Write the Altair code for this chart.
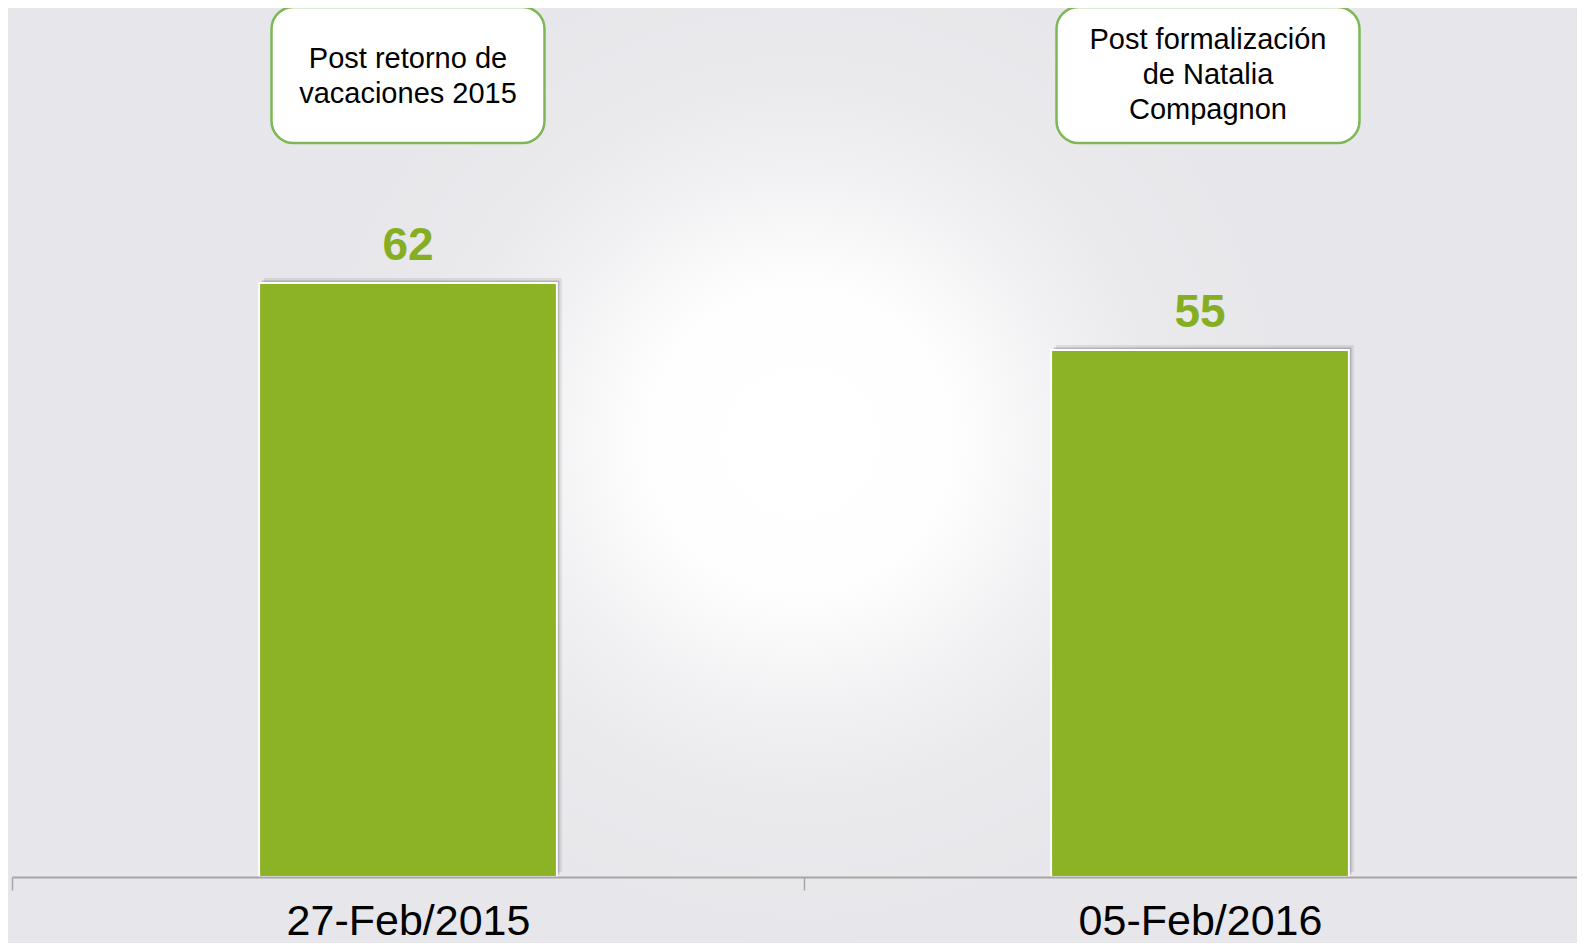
import altair as alt
import pandas as pd

# ---- data ----
categories = ["27-Feb/2015", "05-Feb/2016"]
values = [62, 55]
notes = ["Post retorno de\nvacaciones 2015", "Post formalización\nde Natalia\nCompagnon"]

df = pd.DataFrame({"fecha": categories, "valor": values, "nota": notes})
one = pd.DataFrame({"k": [0]})

W, H = 1569, 869
GREEN = "#8cb326"
LABEL_GREEN = "#86ae22"
BOX_GREEN = "#7cb856"

xscale = alt.Scale(domain=categories, range=[4, 1588], paddingInner=0, paddingOuter=0)
yscale = alt.Scale(domain=[0, 90.7])

x_axis = alt.X(
    "fecha:N", scale=xscale, sort=categories,
    axis=alt.Axis(
        title=None, tickBand="extent", grid=False, zindex=1,
        domainColor="#a6a6a6", domainWidth=2,
        tickColor="#a6a6a6", tickWidth=1.5, tickSize=13,
        labelFont="Liberation Sans", labelFontSize=43, labelColor="#000000",
        labelBaseline="alphabetic", labelPadding=44, labelAngle=0, labelLimit=0,
    ),
)
y_val = alt.Y("valor:Q", scale=yscale, axis=None)

grad = alt.RadialGradient(
    gradient="radial",
    stops=[
        alt.GradientStop(color="#ffffff", offset=0),
        alt.GradientStop(color="#fefefe", offset=0.15),
        alt.GradientStop(color="#f9f9fa", offset=0.2),
        alt.GradientStop(color="#f1f1f3", offset=0.27),
        alt.GradientStop(color="#eaeaed", offset=0.36),
        alt.GradientStop(color="#e7e7eb", offset=0.5),
    ],
    x1=0.5, y1=0.5, r1=0, x2=0.5, y2=0.5, r2=0.5,
)

bg = alt.Chart(one).mark_rect(color=grad).encode(
    x=alt.value(-208), x2=alt.value(1792), y=alt.value(-568), y2=alt.value(1432)
)

shadow1 = alt.Chart(df).mark_bar(
    color="#000000", opacity=0.08, width=alt.RelativeBandSize(0.376), xOffset=5, yOffset=-5
).encode(x=x_axis, y=y_val)
shadow2 = alt.Chart(df).mark_bar(
    color="#000000", opacity=0.18, width=alt.RelativeBandSize(0.376), xOffset=2.5, yOffset=-2.5
).encode(x=x_axis, y=y_val)

bars = alt.Chart(df).mark_bar(
    color=GREEN, stroke="white", strokeWidth=2, width=alt.RelativeBandSize(0.376)
).encode(x=x_axis, y=y_val)

vlabels = alt.Chart(df).mark_text(
    font="Liberation Sans", fontSize=46, fontWeight="bold", color=LABEL_GREEN,
    baseline="alphabetic", dy=-23,
).encode(x=x_axis, y=y_val, text="valor:Q")

layers = [bg, shadow1, shadow2, bars, vlabels]

# box width, horizontal shift, first-line y
box_styles = [(273, 0, 51), (303, 8, 32)]
for i, (bw, off, ty) in enumerate(box_styles):
    sub = df.iloc[[i]]
    box = alt.Chart(sub).mark_bar(
        width=bw, xOffset=off, cornerRadius=22, fill="white",
        stroke=BOX_GREEN, strokeWidth=2.5,
    ).encode(x=x_axis, y=alt.value(-1), y2=alt.value(135))
    txt = alt.Chart(sub).mark_text(
        font="Liberation Sans", fontSize=29, lineHeight=35, lineBreak="\n",
        baseline="middle", align="center", color="#000000", xOffset=off,
    ).encode(x=x_axis, y=alt.value(ty), text="nota:N")
    layers += [box, txt]

chart = alt.layer(*layers).properties(
    width=W, height=H, autosize="none",
    padding={"left": 0, "top": 0, "right": 0, "bottom": 66},
).configure_view(stroke=None).configure(background="#e9e9eb")

chart.save("out.html", embed_options={"renderer": "svg", "actions": False})
